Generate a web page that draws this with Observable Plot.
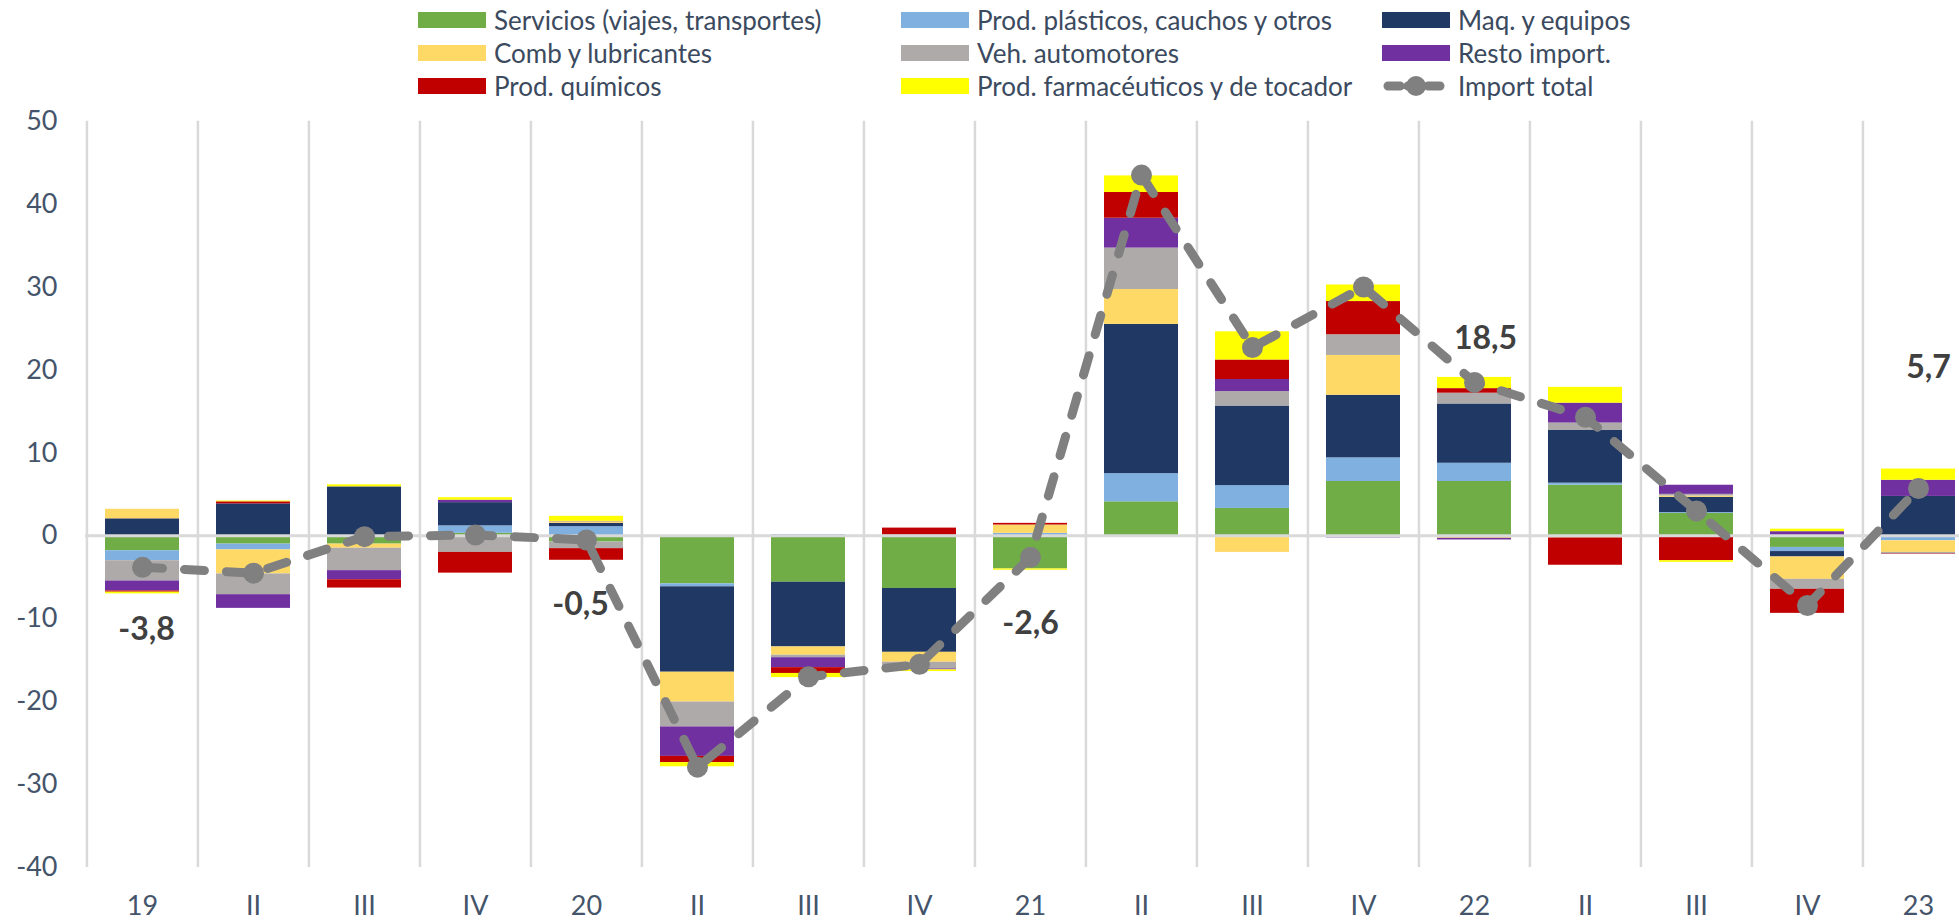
<!DOCTYPE html>
<html>
<head>
<meta charset="utf-8">
<script src="https://cdn.jsdelivr.net/npm/d3@7"></script>
<script src="https://cdn.jsdelivr.net/npm/@observablehq/plot@0.6"></script>
<style>
  html, body { margin: 0; padding: 0; background: #fff; overflow: hidden; }
  #wrap { position: relative; width: 1959px; height: 923px; font-family: Lato, "Open Sans", sans-serif; }
  #legend { position: absolute; left: 0; top: 0; width: 1959px; height: 100px; }
  .li { position: absolute; height: 30px; display: flex; align-items: center; color: #3B4A5E; font-size: 26px; white-space: nowrap; }
  .sw { display: inline-block; width: 68px; height: 16px; margin-right: 8px; }
  #chart { position: absolute; left: 0; top: 100px; }
</style>
</head>
<body>
<div id="wrap">
  <div id="legend"></div>
  <div id="chart"></div>
</div>
<script>
// ---- Data ----
const quarterKeys = ["2019-1","2019-2","2019-3","2019-4","2020-1","2020-2","2020-3","2020-4","2021-1","2021-2","2021-3","2021-4","2022-1","2022-2","2022-3","2022-4","2023-1"];
const quarterLabels = ["19","II","III","IV","20","II","III","IV","21","II","III","IV","22","II","III","IV","23"];

const seriesNames = [
  "Servicios (viajes, transportes)",
  "Prod. plásticos, cauchos y otros",
  "Maq. y equipos",
  "Comb y lubricantes",
  "Veh. automotores",
  "Resto import.",
  "Prod. químicos",
  "Prod. farmacéuticos y de tocador"
];
const totalName = "Import total";

const servicios  = [-1.8, -1.0, -1.0,  0.3, -0.75, -5.8, -5.6, -6.35, -4.0,  4.1,  3.3,  6.55,  6.55,  6.1,  2.7, -1.4,  0.0];
const plasticos  = [-1.2, -0.7,  0.0,  0.9,  1.1, -0.35,  0.15, 0.08,  0.3,  3.4,  2.75, 2.85,  2.2,  0.25, 0.1, -0.5, -0.6];
const maquinaria = [ 2.05, 3.85, 5.9,  2.8,  0.4, -10.3, -7.8, -7.7,  0.0, 18.0,  9.6,  7.55,  7.15, 6.35, 1.85, -0.65, 4.75];
const combustib  = [ 1.15, -2.9, -0.5, -0.15, 0.2, -3.6, -1.0, -1.2,  1.0,  4.2, -2.0,  4.8, -0.3, -0.25, 0.15, -2.7, -1.4];
const vehiculos  = [-2.45, -2.5, -2.7, -1.85, -0.8, -3.0, -0.3, -0.8,  0.0,  5.0,  1.75, 2.5,  1.3,  0.9,  0.2, -1.2, -0.2];
const resto      = [-1.2, -1.65, -1.1, 0.3,  0.05, -3.55, -1.2, -0.12, 0.0,  3.6,  1.45, -0.25, -0.2, 2.4,  1.1,  0.5,  1.95];
const quimicos   = [-0.15, 0.25, -1.0, -2.5, -1.4, -0.75, -0.7, 0.85, 0.2,  3.1,  2.35, 4.0,  0.55, -3.3, -3.0, -2.9, -0.05];
const farmaceut  = [-0.2,  0.1,  0.25, 0.3,  0.6, -0.5, -0.5, -0.2, -0.15,  2.0,  3.4,  2.0,  1.35, 1.9, -0.2,  0.3,  1.35];
const importTotal = [-3.8, -4.5, -0.1, 0.1, -0.5, -27.9, -17.0, -15.5, -2.6, 43.5, 22.7, 30.0, 18.5, 14.3, 3.0, -8.4, 5.7];

const labelIndex = [0, 4, 8, 12, 16];
const labelText  = ["-3,8", "-0,5", "-2,6", "18,5", "5,7"];

const yTicks = [-40, -30, -20, -10, 0, 10, 20, 30, 40, 50];

// ---- Styles ----
const seriesColors = ["#70AD47", "#7FB0DF", "#203864", "#FFD966", "#AEAAAA", "#7030A0", "#C00000", "#FFFF00"];
const totalColor = "#808080";
const labelOffsets = [[4, 62], [-6, 65], [0, 66], [11, -44], [10, -121]];

// ---- Build tables ----
const seriesValues = [servicios, plasticos, maquinaria, combustib, vehiculos, resto, quimicos, farmaceut];
const stacked = [];
seriesNames.forEach((s, si) => {
  quarterKeys.forEach((q, qi) => stacked.push({q, series: s, v: seriesValues[si][qi]}));
});
const totals = quarterKeys.map((q, i) => ({q, v: importTotal[i]}));

const xRange = [85, 1974];
const step = (xRange[1] - xRange[0]) / quarterKeys.length;

const labelMarks = labelIndex.map((qi, k) =>
  Plot.text([{q: quarterKeys[qi], v: importTotal[qi], t: labelText[k]}], {
    x: "q", y: "v", text: "t",
    dx: labelOffsets[k][0], dy: labelOffsets[k][1],
    fontSize: 32, fontWeight: "bold", fill: "#404040"
  })
);

const chart = Plot.plot({
  width: 1959,
  height: 823,
  marginTop: 20.7,
  marginBottom: 56,
  marginLeft: 85,
  marginRight: 0,
  style: {fontFamily: "Lato, 'Open Sans', sans-serif", fontSize: "27px", color: "#44546A", background: "white"},
  x: {domain: quarterKeys, range: xRange, paddingInner: 0.334, paddingOuter: 0.167, label: null},
  y: {domain: [-40, 50], label: null},
  color: {domain: seriesNames, range: seriesColors},
  marks: [
    Plot.ruleX(quarterKeys, {x: d => d, dx: -step / 2, y1: -40, y2: 50, stroke: "#D9D9D9", strokeWidth: 2.5}),
    Plot.barY(stacked, {x: "q", y: "v", fill: "series"}),
    Plot.ruleY([0], {stroke: "#D9D9D9", strokeWidth: 3}),
    Plot.axisY({ticks: yTicks, tickSize: 0, tickPadding: 28, tickFormat: d => String(d), fontSize: 27, fill: "#44546A"}),
    Plot.axisX({tickSize: 0, tickPadding: 28, tickFormat: (d) => quarterLabels[quarterKeys.indexOf(d)], fontSize: 27, fill: "#44546A"}),
    Plot.line(totals, {x: "q", y: "v", stroke: totalColor, strokeWidth: 9, strokeDasharray: "20,22", strokeLinecap: "round", strokeLinejoin: "round"}),
    Plot.dot(totals, {x: "q", y: "v", r: 10.5, fill: totalColor, stroke: "none"}),
    ...labelMarks
  ]
});
document.getElementById("chart").appendChild(chart);

// ---- Legend (HTML above the SVG) ----
const legendItems = [...seriesNames, totalName];
const legendColors = [...seriesColors, totalColor];
const colSwatchX = [418, 901, 1382];
const rowCenterY = [20, 53, 86];
const legend = document.getElementById("legend");
legendItems.forEach((name, i) => {
  const row = Math.floor(i / 3), col = i % 3;
  const el = document.createElement("div");
  el.className = "li";
  el.style.left = colSwatchX[col] + "px";
  el.style.top = (rowCenterY[row] - 15) + "px";
  let sw;
  if (name === totalName) {
    sw = `<svg width="68" height="24" style="margin-right:8px"><line x1="6" y1="12" x2="62" y2="12" stroke="${totalColor}" stroke-width="9" stroke-linecap="round" stroke-dasharray="12,8"/><circle cx="34" cy="12" r="10" fill="${totalColor}"/></svg>`;
  } else {
    sw = `<span class="sw" style="background:${legendColors[i]}"></span>`;
  }
  el.innerHTML = sw + `<span>${name}</span>`;
  legend.appendChild(el);
});
</script>
</body>
</html>
